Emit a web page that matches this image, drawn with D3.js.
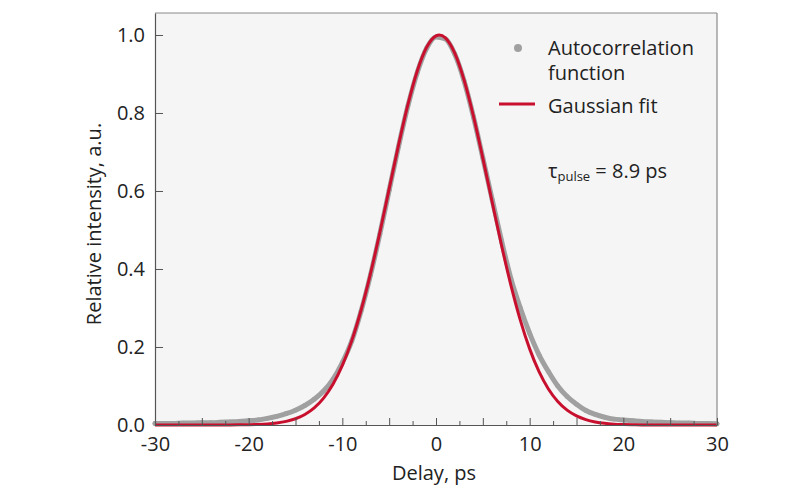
<!DOCTYPE html>
<html>
<head>
<meta charset="utf-8">
<script src="https://cdn.jsdelivr.net/npm/d3@7"></script>
<style>
  html, body { margin: 0; padding: 0; background: #ffffff; }
  svg { display: block; font-family: "Open Sans", "Noto Sans", sans-serif; }
</style>
</head>
<body>
<svg id="chart" width="800" height="500"></svg>
<script>
// ---- Data ----
const delayX = [-30,-29,-28,-27,-26,-25,-24,-23,-22,-21,-20,-19,-18,-17,-16,-15,-14,-13,-12,-11,-10,-9,-8,-7,-6,-5,-4,-3,-2,-1,0,1,2,3,4,5,6,7,8,9,10,11,12,13,14,15,16,17,18,19,20,21,22,23,24,25,26,27,28,29,30];
const autocorrValues = [0.004,0.004,0.004,0.005,0.005,0.006,0.006,0.007,0.008,0.009,0.011,0.013,0.017,0.022,0.029,0.038,0.050,0.066,0.087,0.117,0.160,0.215,0.292,0.384,0.489,0.602,0.714,0.818,0.904,0.966,0.995,0.990,0.951,0.882,0.790,0.685,0.578,0.472,0.375,0.300,0.235,0.180,0.137,0.100,0.073,0.053,0.037,0.027,0.020,0.015,0.013,0.011,0.009,0.008,0.007,0.006,0.005,0.005,0.004,0.004,0.003];

const fitX = [-30,-25,-22,-21,-20,-19,-18,-17,-16,-15,-14,-13,-12,-11,-10,-9,-8,-7,-6,-5,-4,-3,-2,-1,0,0.35,1,2,3,4,5,6,7,8,9,10,11,12,13,14,15,16,17,18,19,20,21,22,25,30];
const fitValues = [0,0,0.0002,0.0005,0.0007,0.0014,0.0027,0.0051,0.0092,0.016,0.027,0.0438,0.0688,0.1043,0.1527,0.2157,0.2943,0.3876,0.4929,0.6053,0.7175,0.8213,0.9077,0.9685,0.9979,1.0,0.9926,0.9534,0.8841,0.7916,0.6843,0.5712,0.4603,0.3582,0.2691,0.1952,0.1367,0.0925,0.0604,0.038,0.0232,0.0136,0.0077,0.0042,0.0022,0.0011,0.0005,0.0002,0,0];

const xTickLabels = [-30,-20,-10,0,10,20,30];
const xMajorTicks = [-30,-25,-20,-15,-10,-5,0,5,10,15,20,25,30];
const xMinorTicks = [-27.5,-22.5,-17.5,-12.5,-7.5,-2.5,2.5,7.5,12.5,17.5,22.5,27.5];
const yTickValues = [0,0.2,0.4,0.6,0.8,1.0];
const legendLabels = ["Autocorrelation", "function", "Gaussian fit"];

// ---- Layout ----
const svg = d3.select("#chart");
const L = 155, R = 717, T = 13, B = 425;
const x = d3.scaleLinear().domain([-30, 30]).range([L, R]);
const y = d3.scaleLinear().domain([0, 1.0564]).range([B, T]);

const textColor = "#222";
const axisColor = "#555";
const grayColor = "#a0a0a0";
const redColor = "#c8102e";

// plot background
svg.append("rect").attr("x", L).attr("y", T).attr("width", R - L).attr("height", B - T)
  .attr("fill", "#f5f5f5");

// data: autocorrelation (gray, dense band)
const pts = delayX.map((d, i) => [d, autocorrValues[i]]);
const grayLine = d3.line().x(d => x(d[0])).y(d => y(d[1])).curve(d3.curveMonotoneX);
svg.append("path").datum(pts).attr("d", grayLine)
  .attr("fill", "none").attr("stroke", grayColor).attr("stroke-width", 5)
  .attr("stroke-linecap", "round").attr("stroke-linejoin", "round");
svg.append("g").selectAll("circle").data(pts).join("circle")
  .attr("cx", d => x(d[0])).attr("cy", d => y(d[1])).attr("r", 2.4).attr("fill", grayColor);

// fit: red line
const fitPts = fitX.map((d, i) => [d, fitValues[i]]);
const redLine = d3.line().x(d => x(d[0])).y(d => y(d[1])).curve(d3.curveMonotoneX);
svg.append("path").datum(fitPts).attr("d", redLine)
  .attr("fill", "none").attr("stroke", redColor).attr("stroke-width", 3)
  .attr("stroke-linejoin", "round");

// frame (top/right lighter)
svg.append("line").attr("x1", L).attr("x2", R).attr("y1", T).attr("y2", T)
  .attr("stroke", "#8a8a8a").attr("stroke-width", 1.2);
svg.append("line").attr("x1", R).attr("x2", R).attr("y1", T).attr("y2", B)
  .attr("stroke", "#8a8a8a").attr("stroke-width", 1.2);

// axes
const xAxis = d3.axisBottom(x).tickValues(xMajorTicks).tickSizeInner(-7).tickSizeOuter(0)
  .tickFormat(d => xTickLabels.includes(d) ? String(d) : "").tickPadding(12);
const gx = svg.append("g").attr("transform", `translate(0,${B})`).call(xAxis);
gx.select(".domain").attr("stroke", axisColor).attr("stroke-width", 1.2);
gx.selectAll(".tick line").attr("stroke", axisColor);
gx.selectAll(".tick text").attr("fill", textColor).attr("font-size", 20)
  .attr("font-family", "'Open Sans', sans-serif");

const xMinor = d3.axisBottom(x).tickValues(xMinorTicks).tickSizeInner(-4).tickSizeOuter(0).tickFormat("");
const gxm = svg.append("g").attr("transform", `translate(0,${B})`).call(xMinor);
gxm.select(".domain").remove();
gxm.selectAll(".tick line").attr("stroke", axisColor);

const yAxis = d3.axisLeft(y).tickValues(yTickValues).tickSizeInner(-8).tickSizeOuter(0)
  .tickFormat(d3.format(".1f")).tickPadding(10);
const gy = svg.append("g").attr("transform", `translate(${L},0)`).call(yAxis);
gy.select(".domain").attr("stroke", axisColor).attr("stroke-width", 1.2);
gy.selectAll(".tick line").attr("stroke", axisColor);
gy.selectAll(".tick text").attr("fill", textColor).attr("font-size", 20)
  .attr("font-family", "'Open Sans', sans-serif");

// axis titles
svg.append("text").attr("x", (L + R) / 2 - 2).attr("y", 480).attr("text-anchor", "middle")
  .attr("font-size", 20).attr("fill", textColor).text("Delay, ps");
svg.append("text").attr("transform", `translate(101,${(T + B) / 2 + 5}) rotate(-90)`)
  .attr("text-anchor", "middle").attr("font-size", 20).attr("fill", textColor)
  .text("Relative intensity, a.u.");

// legend
const lg = svg.append("g");
lg.append("circle").attr("cx", 518).attr("cy", 48).attr("r", 4).attr("fill", grayColor);
lg.append("text").attr("x", 548).attr("y", 55).attr("font-size", 20).attr("fill", textColor).text(legendLabels[0]);
lg.append("text").attr("x", 548).attr("y", 80).attr("font-size", 20).attr("fill", textColor).text(legendLabels[1]);
lg.append("line").attr("x1", 499).attr("x2", 535).attr("y1", 104).attr("y2", 104)
  .attr("stroke", redColor).attr("stroke-width", 3);
lg.append("text").attr("x", 548).attr("y", 113).attr("font-size", 20).attr("fill", textColor).text(legendLabels[2]);

// pulse annotation
const ann = svg.append("text").attr("x", 548).attr("y", 178).attr("font-size", 20).attr("fill", textColor);
ann.append("tspan").text("τ");
ann.append("tspan").attr("font-size", 13).attr("dy", 3).text("pulse");
ann.append("tspan").attr("dy", -3).text(" = 8.9 ps");
</script>
</body>
</html>
